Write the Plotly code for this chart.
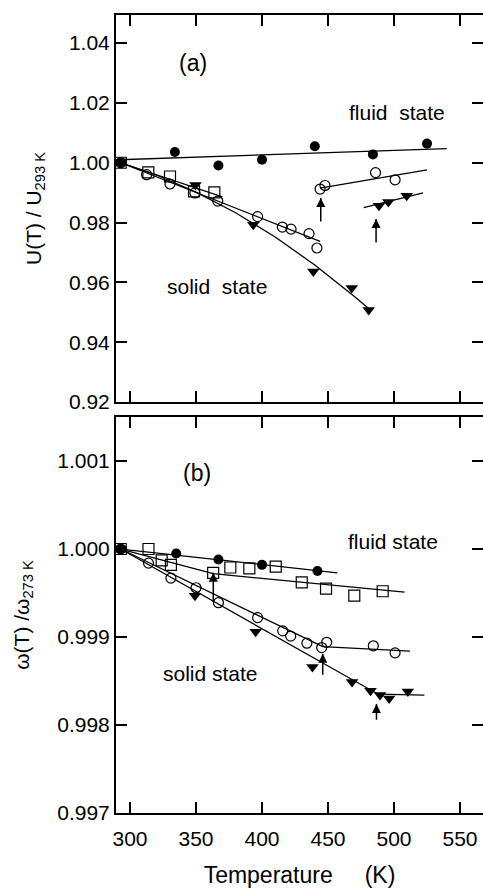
import plotly.graph_objects as go

# ---------------- data: panel (a)  U(T)/U293K ----------------
a_fc_T = [293, 334, 367, 400, 440, 484, 525]
a_fc_U = [1.0002, 1.0036, 0.9991, 1.0010, 1.0055, 1.0028, 1.0064]
a_fc_line_T = [292, 540]
a_fc_line_U = [1.0010, 1.0047]

a_oc_T = [293, 312.6, 330.3, 349.2, 366.5, 396.7, 415.4, 422, 435.6, 441.6, 444, 447.7, 486, 500.8]
a_oc_U = [1.0, 0.9960, 0.9929, 0.9899, 0.9872, 0.9820, 0.9785, 0.9778, 0.9763, 0.9715,
          0.9912, 0.9924, 0.9967, 0.9943]
a_oc_solid_T = [293, 444]
a_oc_solid_U = [1.0, 0.9737]
a_oc_fluid_T = [444, 525]
a_oc_fluid_U = [0.9915, 0.9976]

a_sq_T = [293, 313.9, 330.3, 348.5, 363.9]
a_sq_U = [1.0, 0.9968, 0.9954, 0.9904, 0.9901]
a_sq_line_T = [293, 370]
a_sq_line_U = [1.0, 0.9886]

a_tr_T = [293, 349.6, 393.4, 438.9, 468, 480.8, 488.6, 495.7, 509.6]
a_tr_U = [1.0, 0.9926, 0.9793, 0.9636, 0.9581, 0.9508, 0.9856, 0.9869, 0.9890]
a_tr_curve_T = [293, 320, 350, 380, 410, 440, 470, 481]
a_tr_curve_U = [1.0, 0.9959, 0.9902, 0.9833, 0.9752, 0.9658, 0.9553, 0.9512]
a_tr_fluid_T = [477, 522]
a_tr_fluid_U = [0.9850, 0.9899]

a_arrow_T = [444.5, 486.4]
a_arrow_tip = [0.9882, 0.9812]
a_arrow_tail = [0.9804, 0.9733]

# ---------------- data: panel (b)  w(T)/w273K ----------------
b_fc_T = [293, 335, 367, 400, 442]
b_fc_W = [1.0, 0.99995, 0.99988, 0.99982, 0.99975]
b_fc_line_T = [293, 457]
b_fc_line_W = [1.0, 0.99973]

b_sq_T = [293, 314, 324, 331, 363, 376, 390.4, 410.4, 430.1, 448.5, 469.9, 491.4]
b_sq_W = [1.0, 1.0000, 0.99987, 0.99982, 0.99973, 0.99979, 0.99978, 0.99980,
          0.99962, 0.99955, 0.99947, 0.99952]
b_sq_line_T = [293, 363, 508]
b_sq_line_W = [1.0, 0.99972, 0.99951]

b_oc_T = [293, 314, 331, 350, 367, 396.7, 415.7, 421.7, 434, 445.2, 449, 484.3, 500.8]
b_oc_W = [1.0, 0.99984, 0.99967, 0.99956, 0.99939, 0.99922, 0.99907, 0.99901,
          0.99893, 0.99888, 0.99894, 0.99890, 0.99882]
b_oc_line_T = [293, 446, 512]
b_oc_line_W = [1.0, 0.99889, 0.99884]

b_tr_T = [293, 349.2, 395.2, 438.2, 468.2, 482.2, 489.4, 496.3, 510.5]
b_tr_W = [1.0, 0.99947, 0.99906, 0.99866, 0.99849, 0.99839, 0.99834, 0.99830, 0.99838]
b_tr_line_T = [293, 488, 523]
b_tr_line_W = [1.0, 0.99835, 0.99834]

b_arrow_T = [363.1, 446, 486.7]
b_arrow_tip = [0.99973, 0.99881, 0.99824]
b_arrow_tail = [0.99940, 0.99857, 0.99806]

x_ticks = [300, 350, 400, 450, 500, 550]
a_y_ticks = [0.92, 0.94, 0.96, 0.98, 1.00, 1.02, 1.04]
a_y_labels = ["0.92", "0.94", "0.96", "0.98", "1.00", "1.02", "1.04"]
b_y_ticks = [0.997, 0.998, 0.999, 1.000, 1.001]
b_y_labels = ["0.997", "0.998", "0.999", "1.000", "1.001"]

FONT = "Liberation Sans, Arial, sans-serif"
BLACK = "black"

fig = go.Figure()

def line(x, y, xa, ya, w=1.3):
    fig.add_trace(go.Scatter(x=x, y=y, mode="lines", xaxis=xa, yaxis=ya,
                             line=dict(color=BLACK, width=w), showlegend=False,
                             hoverinfo="skip"))

def pts(x, y, xa, ya, symbol, size, lw=1.2):
    fig.add_trace(go.Scatter(x=x, y=y, mode="markers", xaxis=xa, yaxis=ya,
                             marker=dict(symbol=symbol, size=size, color=BLACK,
                                         line=dict(color=BLACK, width=lw)),
                             showlegend=False))

def arrows(Ts, tips, tails, xa, ya):
    xs, ys = [], []
    for T, tip, tail in zip(Ts, tips, tails):
        xs += [T, T, None]
        ys += [tail, tip, None]
    line(xs, ys, xa, ya, 1.5)
    fig.add_trace(go.Scatter(x=Ts, y=tips, mode="markers", xaxis=xa, yaxis=ya,
                             marker=dict(symbol="arrow-up", size=9, color=BLACK,
                                         line=dict(width=0)),
                             showlegend=False, hoverinfo="skip"))

# panel (a) on x2/y2
line(a_fc_line_T, a_fc_line_U, "x2", "y2")
line(a_oc_solid_T, a_oc_solid_U, "x2", "y2")
line(a_oc_fluid_T, a_oc_fluid_U, "x2", "y2")
line(a_sq_line_T, a_sq_line_U, "x2", "y2")
line(a_tr_curve_T, a_tr_curve_U, "x2", "y2")
line(a_tr_fluid_T, a_tr_fluid_U, "x2", "y2")
pts(a_sq_T, a_sq_U, "x2", "y2", "square-open", 11)
pts(a_oc_T, a_oc_U, "x2", "y2", "circle-open", 10)
pts(a_tr_T, a_tr_U, "x2", "y2", "triangle-down", 11, 0)
pts(a_fc_T, a_fc_U, "x2", "y2", "circle", 10, 0)
arrows(a_arrow_T, a_arrow_tip, a_arrow_tail, "x2", "y2")

# panel (b) on x/y
line(b_fc_line_T, b_fc_line_W, "x", "y")
line(b_sq_line_T, b_sq_line_W, "x", "y")
line(b_oc_line_T, b_oc_line_W, "x", "y")
line(b_tr_line_T, b_tr_line_W, "x", "y")
pts(b_sq_T, b_sq_W, "x", "y", "square-open", 11)
pts(b_oc_T, b_oc_W, "x", "y", "circle-open", 10)
pts(b_tr_T, b_tr_W, "x", "y", "triangle-down", 11, 0)
pts(b_fc_T, b_fc_W, "x", "y", "circle", 10, 0)
arrows(b_arrow_T, b_arrow_tip, b_arrow_tail, "x", "y")

ann = []

def label(text, x, y, xr, yr, size=21):
    ann.append(dict(text=text, x=x, y=y, xref=xr, yref=yr, showarrow=False,
                    font=dict(family=FONT, size=size, color=BLACK),
                    xanchor="center", yanchor="middle"))

label("(a)", 347.7, 1.0334, "x2", "y2", 23)
label("(b)", 350.8, 1.00086, "x", "y", 23)
label("fluid\u00a0\u00a0state", 502.3, 1.0167, "x2", "y2")
label("solid\u00a0\u00a0state", 365.9, 0.9585, "x2", "y2")
label("fluid\u00a0state", 499.5, 1.00008, "x", "y")
label("solid\u00a0state", 361.1, 0.99858, "x", "y")

axis_common = dict(showline=True, linecolor=BLACK, linewidth=2, mirror="ticks",
                   ticks="inside", ticklen=11, tickwidth=2, tickcolor=BLACK,
                   showgrid=False, zeroline=False, automargin=False,
                   tickfont=dict(family=FONT, size=21, color=BLACK))

fig.update_layout(
    width=483, height=889,
    margin=dict(l=116, r=0, t=15, b=76),
    plot_bgcolor="white", paper_bgcolor="white",
    font=dict(family=FONT, color=BLACK),
    xaxis=dict(**axis_common, domain=[0, 1], anchor="y", range=[289.4, 567.4],
               tickvals=x_ticks, ticklabelstandoff=6,
               title=dict(text="Temperature\u00a0\u00a0\u00a0\u00a0\u00a0(K)",
                          font=dict(family=FONT, size=23, color=BLACK), standoff=18)),
    yaxis=dict(**axis_common, domain=[0, 0.4962], anchor="x", range=[0.997, 1.0015],
               tickvals=b_y_ticks, ticktext=b_y_labels,
               title=dict(text="\u03c9(T) /\u03c9<sub>273 K</sub>",
                          font=dict(family="Liberation Sans Narrow, " + FONT, size=21, color=BLACK),
                          standoff=22)),
    xaxis2=dict(**axis_common, domain=[0, 1], anchor="y2", range=[289.4, 567.4],
                tickvals=x_ticks, showticklabels=False, matches="x"),
    yaxis2=dict(**axis_common, domain=[0.515, 1], anchor="x2", range=[0.92, 1.0494],
                tickvals=a_y_ticks, ticktext=a_y_labels,
                title=dict(text="U(T) / U<sub>293 K</sub>",
                           font=dict(family="Liberation Sans Narrow, " + FONT, size=21, color=BLACK),
                           standoff=22)),
    annotations=ann,
)

fig.write_html("out.html", config={"displayModeBar": False},
               post_script="document.body.style.margin='0';document.body.style.overflow='hidden';")
